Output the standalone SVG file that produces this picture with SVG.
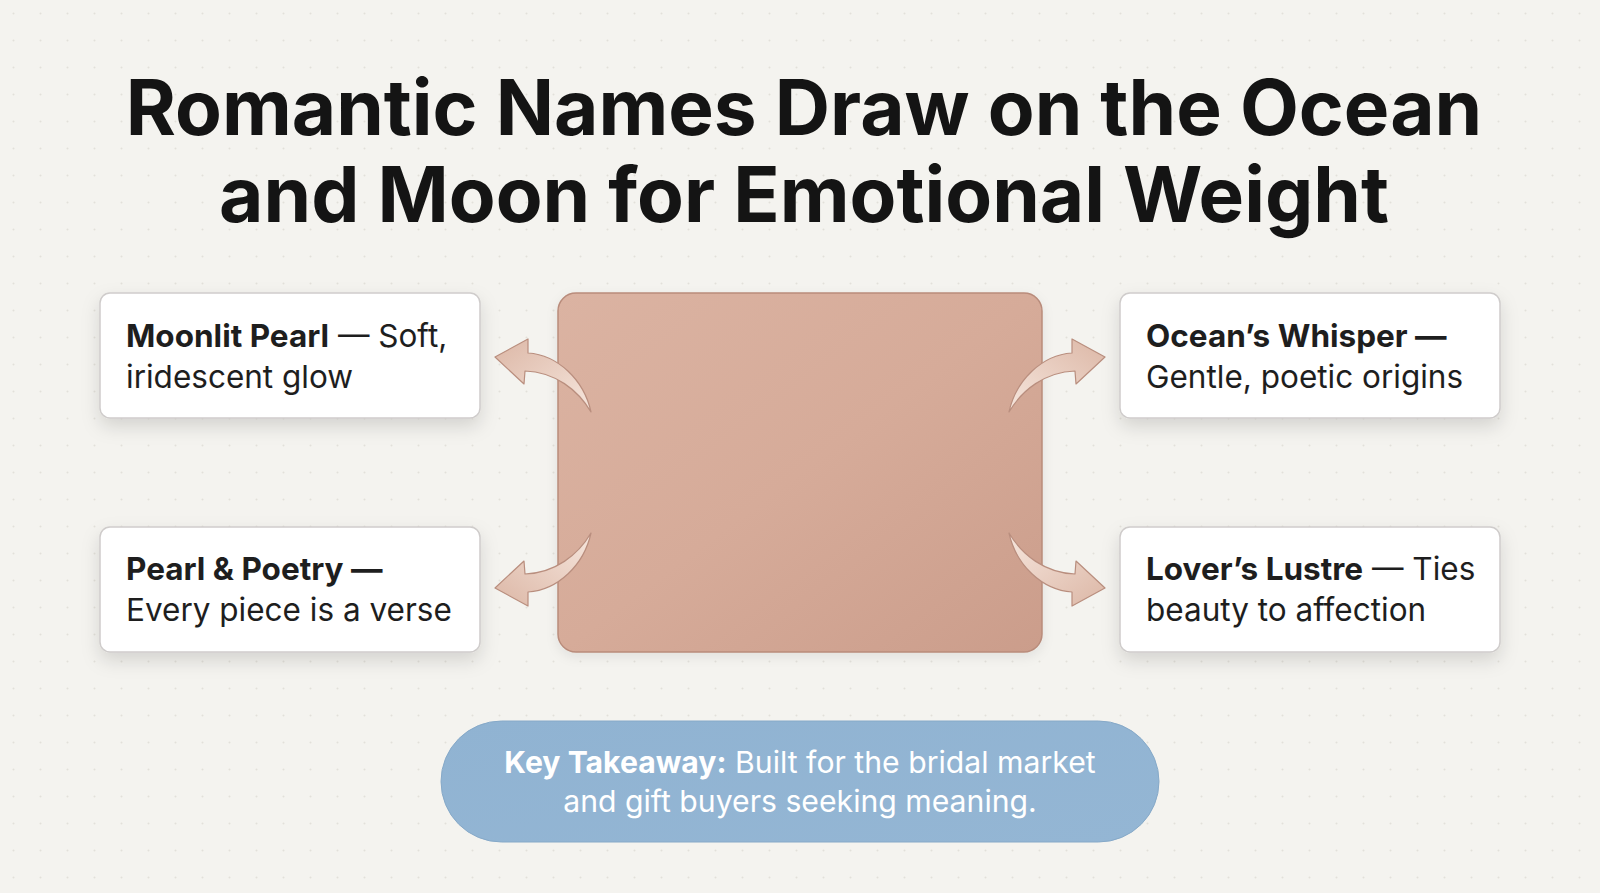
<svg xmlns="http://www.w3.org/2000/svg" width="1600" height="893" viewBox="0 0 1600 893">
  <style>
    .title { font-family: Inter, "Noto Sans", "Liberation Sans", sans-serif; font-weight: 700; font-size: 76.5px; fill: #141414; text-anchor: middle; }
    .card { fill: #ffffff; stroke: #cfcccb; stroke-width: 1.5; }
    .ct { font-family: Inter, "Noto Sans", "Liberation Sans", sans-serif; font-size: 31.5px; fill: #1e1e1e; }
    .b { font-weight: 700; }
    .pt { font-family: Inter, "Noto Sans", "Liberation Sans", sans-serif; font-size: 30.2px; fill: #ffffff; text-anchor: middle; }
    .arrow { fill: url(#arrowGrad); stroke: #b98e7e; stroke-width: 1.2; stroke-linejoin: round; }
  </style>
  <defs>
    <pattern id="dots" x="0" y="0" width="27" height="27" patternUnits="userSpaceOnUse">
      <circle cx="13.5" cy="13.5" r="1" fill="#d6d3cc"/>
    </pattern>
    <linearGradient id="centerGrad" x1="0" y1="0" x2="1" y2="1">
      <stop offset="0" stop-color="#dbb3a2"/>
      <stop offset="0.5" stop-color="#d6ab99"/>
      <stop offset="1" stop-color="#cb9d8b"/>
    </linearGradient>
    <linearGradient id="pillGrad" x1="0" y1="0" x2="1" y2="1">
      <stop offset="0" stop-color="#90b3d2"/>
      <stop offset="1" stop-color="#94b6d4"/>
    </linearGradient>
    <linearGradient id="arrowGrad" x1="1" y1="1" x2="0" y2="0">
      <stop offset="0" stop-color="#f6e6dd"/>
      <stop offset="1" stop-color="#dcb7a6"/>
    </linearGradient>
    <filter id="shadow" x="-20%" y="-30%" width="140%" height="170%">
      <feDropShadow dx="0" dy="8" stdDeviation="9" flood-color="#000000" flood-opacity="0.13"/>
    </filter>
    <filter id="softShadow" x="-20%" y="-20%" width="140%" height="150%">
      <feDropShadow dx="0" dy="4" stdDeviation="6" flood-color="#000000" flood-opacity="0.08"/>
    </filter>
    <path id="arrowShape" d="M 495 357 L 528 339 L 528 353 C 558 355 584 380 591 412 C 578 390 555 372 525 371 L 524 384 Z"/>
  </defs>

  <rect x="0" y="0" width="1600" height="893" fill="#f4f3ef"/>
  <rect x="0" y="0" width="1600" height="893" fill="url(#dots)" opacity="0.6"/>

  <g id="title">
    <text class="title" x="804" y="135">Romantic Names Draw on the Ocean</text>
    <text class="title" x="804" y="222">and Moon for Emotional Weight</text>
  </g>

  <g id="center-node">
    <rect x="558" y="293" width="484" height="359" rx="18" fill="url(#centerGrad)" stroke="#b98c7b" stroke-width="1.5" filter="url(#softShadow)"/>
  </g>

  <g id="node-moonlit-pearl">
    <rect class="card" x="100" y="293" width="380" height="125" rx="10" filter="url(#shadow)"/>
    <text class="ct" x="126" y="347"><tspan class="b">Moonlit Pearl</tspan> — Soft,</text>
    <text class="ct" x="126" y="388">iridescent glow</text>
  </g>

  <g id="node-pearl-poetry">
    <rect class="card" x="100" y="527" width="380" height="125" rx="10" filter="url(#shadow)"/>
    <text class="ct" x="126" y="580"><tspan class="b">Pearl &amp; Poetry —</tspan></text>
    <text class="ct" x="126" y="621">Every piece is a verse</text>
  </g>

  <g id="node-oceans-whisper">
    <rect class="card" x="1120" y="293" width="380" height="125" rx="10" filter="url(#shadow)"/>
    <text class="ct" x="1146" y="347"><tspan class="b">Ocean’s Whisper —</tspan></text>
    <text class="ct" x="1146" y="388">Gentle, poetic origins</text>
  </g>

  <g id="node-lovers-lustre">
    <rect class="card" x="1120" y="527" width="380" height="125" rx="10" filter="url(#shadow)"/>
    <text class="ct" x="1146" y="580"><tspan class="b">Lover’s Lustre</tspan> — Ties</text>
    <text class="ct" x="1146" y="621">beauty to affection</text>
  </g>

  <g id="connectors">
    <use href="#arrowShape" class="arrow"/>
    <use href="#arrowShape" class="arrow" transform="translate(0 945) scale(1 -1)"/>
    <use href="#arrowShape" class="arrow" transform="translate(1600 0) scale(-1 1)"/>
    <use href="#arrowShape" class="arrow" transform="translate(1600 945) scale(-1 -1)"/>
  </g>

  <g id="takeaway">
    <rect x="441" y="721" width="718" height="121" rx="60.5" fill="url(#pillGrad)" stroke="#86a9c8" stroke-width="1"/>
    <text class="pt" x="800" y="773"><tspan font-weight="700">Key Takeaway:</tspan> Built for the bridal market</text>
    <text class="pt" x="800" y="812">and gift buyers seeking meaning.</text>
  </g>
</svg>
